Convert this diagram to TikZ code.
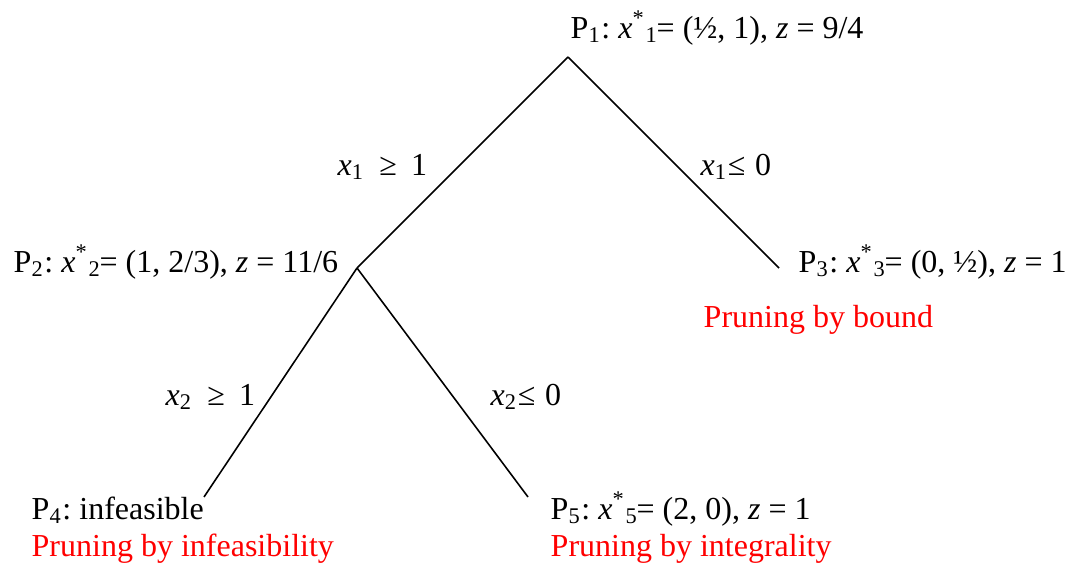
\documentclass[tikz,border=0pt]{standalone}
\usepackage{fontspec}
\setmainfont{Liberation Serif}
\usepackage{tikz}
\usetikzlibrary{positioning}
\definecolor{PruneRed}{HTML}{FF0000}
\newcommand{\xopt}[1]{\textit{x}\textsuperscript{*}\textsubscript{#1}\kern-0.5pt}
\newcommand{\xvar}[1]{\textit{x}\textsubscript{#1}}

\begin{document}
\begin{tikzpicture}[x=0.01cm,y=-0.01cm,
    font=\fontsize{9.1pt}{10.5pt}\selectfont\frenchspacing,
    lbl/.style={anchor=base west,inner sep=0pt},
    prune/.style={lbl,text=PruneRed},
    branch/.style={line width=0.45pt}]
  \useasboundingbox (0,0) rectangle (1068,565);
  % branching points of the tree
  \coordinate (n1) at (568,57);
  \coordinate (n2) at (357,268);
  \coordinate (n3) at (779,268);
  \coordinate (n4) at (204,497);
  \coordinate (n5) at (528,497);
  \draw[branch] (n1) -- (n2);
  \draw[branch] (n1) -- (n3);
  \draw[branch] (n2) -- (n4);
  \draw[branch] (n2) -- (n5);
  % subproblems
  \node[lbl] (p1) at (570,39) {P\textsubscript{1}: \xopt{1} = (½, 1), \textit{z} = 9/4};
  \node[lbl] (p2) at (13,273) {P\textsubscript{2}: \xopt{2} = (1, 2/3), \textit{z} = 11/6};
  \node[lbl] (p3) at (798,273) {P\textsubscript{3}: \xopt{3} = (0, ½), \textit{z} = 1};
  \node[lbl] (p4) at (31,520) {P\textsubscript{4}: infeasible};
  \node[lbl] (p5) at (550,520) {P\textsubscript{5}: \xopt{5} = (2, 0), \textit{z} = 1};
  \node[prune] (b3) at (703,328) {Pruning by bound};
  \node[prune] (b4) at (31,557) {Pruning by infeasibility};
  \node[prune] (b5) at (550,557) {Pruning by integrality};
  % branching constraints
  \node[lbl] (c12) at (337,176) {\xvar{1}\hspace{0.45em}≥\hspace{0.45em}1};
  \node[lbl] (c13) at (700,176) {\xvar{1}≤\hspace{0.3em}0};
  \node[lbl] (c24) at (165,406) {\xvar{2}\hspace{0.45em}≥\hspace{0.45em}1};
  \node[lbl] (c25) at (490,406) {\xvar{2}≤\hspace{0.3em}0};
\end{tikzpicture}
\end{document}
